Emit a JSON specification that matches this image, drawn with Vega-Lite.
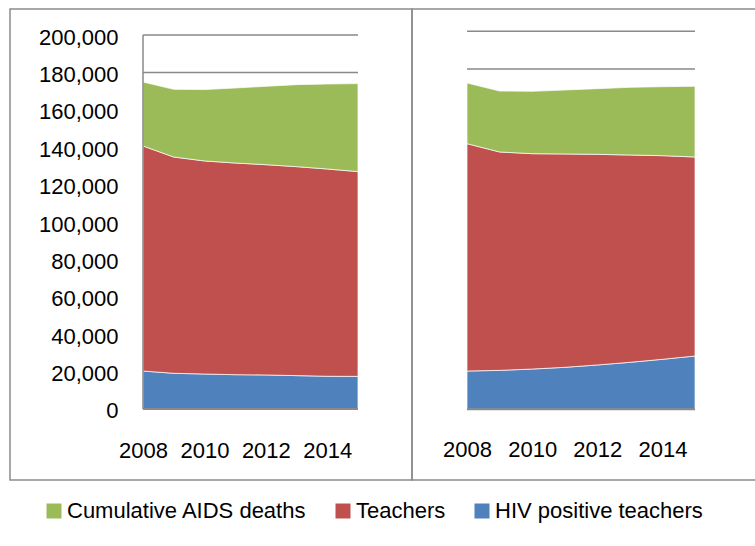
{
  "$schema": "https://vega.github.io/schema/vega-lite/v6.json",
  "padding": {"left": 9, "top": 8, "right": 0, "bottom": 0},
  "background": "white",
  "datasets": {
    "areas": [
      {"panel": "left", "year": 2008, "series": "HIV positive teachers", "value": 20300, "rank": 1},
      {"panel": "left", "year": 2009, "series": "HIV positive teachers", "value": 19100, "rank": 1},
      {"panel": "left", "year": 2010, "series": "HIV positive teachers", "value": 18700, "rank": 1},
      {"panel": "left", "year": 2011, "series": "HIV positive teachers", "value": 18350, "rank": 1},
      {"panel": "left", "year": 2012, "series": "HIV positive teachers", "value": 18200, "rank": 1},
      {"panel": "left", "year": 2013, "series": "HIV positive teachers", "value": 17850, "rank": 1},
      {"panel": "left", "year": 2014, "series": "HIV positive teachers", "value": 17500, "rank": 1},
      {"panel": "left", "year": 2015, "series": "HIV positive teachers", "value": 17450, "rank": 1},
      {"panel": "left", "year": 2008, "series": "Teachers", "value": 120350, "rank": 2},
      {"panel": "left", "year": 2009, "series": "Teachers", "value": 115650, "rank": 2},
      {"panel": "left", "year": 2010, "series": "Teachers", "value": 113950, "rank": 2},
      {"panel": "left", "year": 2011, "series": "Teachers", "value": 113200, "rank": 2},
      {"panel": "left", "year": 2012, "series": "Teachers", "value": 112450, "rank": 2},
      {"panel": "left", "year": 2013, "series": "Teachers", "value": 111750, "rank": 2},
      {"panel": "left", "year": 2014, "series": "Teachers", "value": 110850, "rank": 2},
      {"panel": "left", "year": 2015, "series": "Teachers", "value": 109500, "rank": 2},
      {"panel": "left", "year": 2008, "series": "Cumulative AIDS deaths", "value": 34200, "rank": 3},
      {"panel": "left", "year": 2009, "series": "Cumulative AIDS deaths", "value": 36200, "rank": 3},
      {"panel": "left", "year": 2010, "series": "Cumulative AIDS deaths", "value": 38150, "rank": 3},
      {"panel": "left", "year": 2011, "series": "Cumulative AIDS deaths", "value": 40100, "rank": 3},
      {"panel": "left", "year": 2012, "series": "Cumulative AIDS deaths", "value": 41900, "rank": 3},
      {"panel": "left", "year": 2013, "series": "Cumulative AIDS deaths", "value": 43850, "rank": 3},
      {"panel": "left", "year": 2014, "series": "Cumulative AIDS deaths", "value": 45450, "rank": 3},
      {"panel": "left", "year": 2015, "series": "Cumulative AIDS deaths", "value": 47050, "rank": 3},
      {"panel": "right", "year": 2008, "series": "HIV positive teachers", "value": 20250, "rank": 1},
      {"panel": "right", "year": 2009, "series": "HIV positive teachers", "value": 20600, "rank": 1},
      {"panel": "right", "year": 2010, "series": "HIV positive teachers", "value": 21300, "rank": 1},
      {"panel": "right", "year": 2011, "series": "HIV positive teachers", "value": 22200, "rank": 1},
      {"panel": "right", "year": 2012, "series": "HIV positive teachers", "value": 23450, "rank": 1},
      {"panel": "right", "year": 2013, "series": "HIV positive teachers", "value": 24850, "rank": 1},
      {"panel": "right", "year": 2014, "series": "HIV positive teachers", "value": 26450, "rank": 1},
      {"panel": "right", "year": 2015, "series": "HIV positive teachers", "value": 28200, "rank": 1},
      {"panel": "right", "year": 2008, "series": "Teachers", "value": 120300, "rank": 2},
      {"panel": "right", "year": 2009, "series": "Teachers", "value": 115550, "rank": 2},
      {"panel": "right", "year": 2010, "series": "Teachers", "value": 113950, "rank": 2},
      {"panel": "right", "year": 2011, "series": "Teachers", "value": 112900, "rank": 2},
      {"panel": "right", "year": 2012, "series": "Teachers", "value": 111450, "rank": 2},
      {"panel": "right", "year": 2013, "series": "Teachers", "value": 109700, "rank": 2},
      {"panel": "right", "year": 2014, "series": "Teachers", "value": 107750, "rank": 2},
      {"panel": "right", "year": 2015, "series": "Teachers", "value": 105300, "rank": 2},
      {"panel": "right", "year": 2008, "series": "Cumulative AIDS deaths", "value": 32100, "rank": 3},
      {"panel": "right", "year": 2009, "series": "Cumulative AIDS deaths", "value": 32250, "rank": 3},
      {"panel": "right", "year": 2010, "series": "Cumulative AIDS deaths", "value": 33000, "rank": 3},
      {"panel": "right", "year": 2011, "series": "Cumulative AIDS deaths", "value": 33850, "rank": 3},
      {"panel": "right", "year": 2012, "series": "Cumulative AIDS deaths", "value": 34750, "rank": 3},
      {"panel": "right", "year": 2013, "series": "Cumulative AIDS deaths", "value": 35800, "rank": 3},
      {"panel": "right", "year": 2014, "series": "Cumulative AIDS deaths", "value": 36500, "rank": 3},
      {"panel": "right", "year": 2015, "series": "Cumulative AIDS deaths", "value": 37400, "rank": 3}
    ],
    "grid": [
      {"tick": 0}, {"tick": 20000}, {"tick": 40000}, {"tick": 60000}, {"tick": 80000},
      {"tick": 100000}, {"tick": 120000}, {"tick": 140000}, {"tick": 160000}, {"tick": 180000}, {"tick": 200000}
    ]
  },
  "vconcat": [
    {
      "bounds": "flush",
      "hconcat": [
        {
          "width": 402,
          "height": 471,
          "layer": [
            {
              "data": {"name": "grid"},
              "mark": {"type": "rule", "color": "#898989", "strokeWidth": 1.5},
              "encoding": {
                "x": {"datum": 2008, "type": "quantitative", "scale": {"domain": [2003.6697, 2016.7582], "nice": false, "zero": false},
                  "axis": {"orient": "bottom", "offset": -71, "values": [2008, 2010, 2012, 2014], "format": "d", "labelPadding": 31, "title": null, "domain": false, "ticks": false, "tickSize": 0, "grid": false, "labelFlush": false, "labelOverlap": false}},
                "x2": {"datum": 2015},
                "y": {"field": "tick", "type": "quantitative", "scale": {"domain": [-37968, 213904], "nice": false, "zero": false},
                  "axis": {"orient": "left", "offset": -133, "values": [0, 20000, 40000, 60000, 80000, 100000, 120000, 140000, 160000, 180000, 200000], "format": ",d", "labelPadding": 25, "labelOffset": 2, "title": null, "domain": false, "ticks": false, "tickSize": 0, "grid": false, "labelOverlap": false, "labelFlush": false}}
              }
            },
            {
              "data": {"name": "areas"},
              "transform": [{"filter": "datum.panel == 'left'"}],
              "mark": {"type": "area", "stroke": "white", "strokeWidth": 1, "strokeOpacity": 0.7},
              "encoding": {
                "x": {"field": "year", "type": "quantitative", "scale": {"domain": [2003.6697, 2016.7582], "nice": false, "zero": false},
                  "axis": {"orient": "bottom", "offset": -71, "values": [2008, 2010, 2012, 2014], "format": "d", "labelPadding": 31, "title": null, "domain": false, "ticks": false, "tickSize": 0, "grid": false, "labelFlush": false, "labelOverlap": false}},
                "y": {"field": "value", "type": "quantitative", "stack": "zero", "scale": {"domain": [-37968, 213904], "nice": false, "zero": false},
                  "axis": {"orient": "left", "offset": -133, "values": [0, 20000, 40000, 60000, 80000, 100000, 120000, 140000, 160000, 180000, 200000], "format": ",d", "labelPadding": 25, "labelOffset": 2, "title": null, "domain": false, "ticks": false, "tickSize": 0, "grid": false, "labelOverlap": false, "labelFlush": false}},
                "color": {"field": "series", "type": "nominal", "scale": {"domain": ["Cumulative AIDS deaths", "Teachers", "HIV positive teachers"], "range": ["#9BBB59", "#C0504D", "#4F81BD"]}, "legend": null},
                "order": {"field": "rank", "type": "quantitative"}
              }
            },
            {
              "data": {"values": [{}]},
              "mark": {"type": "rule", "color": "#898989", "strokeWidth": 1.5},
              "encoding": {
                "x": {"datum": 2008, "type": "quantitative",
                  "axis": {"orient": "bottom", "offset": -71, "values": [2008, 2010, 2012, 2014], "format": "d", "labelPadding": 31, "title": null, "domain": false, "ticks": false, "tickSize": 0, "grid": false, "labelFlush": false, "labelOverlap": false}},
                "y": {"datum": 0, "type": "quantitative",
                  "axis": {"orient": "left", "offset": -133, "values": [0, 20000, 40000, 60000, 80000, 100000, 120000, 140000, 160000, 180000, 200000], "format": ",d", "labelPadding": 25, "labelOffset": 2, "title": null, "domain": false, "ticks": false, "tickSize": 0, "grid": false, "labelOverlap": false, "labelFlush": false}},
                "y2": {"datum": 200000}
              }
            },
            {
              "data": {"values": [{}]},
              "mark": {"type": "rule", "color": "#898989", "strokeWidth": 2},
              "encoding": {
                "x": {"datum": 2008, "type": "quantitative",
                  "axis": {"orient": "bottom", "offset": -71, "values": [2008, 2010, 2012, 2014], "format": "d", "labelPadding": 31, "title": null, "domain": false, "ticks": false, "tickSize": 0, "grid": false, "labelFlush": false, "labelOverlap": false}},
                "x2": {"datum": 2015},
                "y": {"datum": 0, "type": "quantitative",
                  "axis": {"orient": "left", "offset": -133, "values": [0, 20000, 40000, 60000, 80000, 100000, 120000, 140000, 160000, 180000, 200000], "format": ",d", "labelPadding": 25, "labelOffset": 2, "title": null, "domain": false, "ticks": false, "tickSize": 0, "grid": false, "labelOverlap": false, "labelFlush": false}}
              }
            }
          ]
        },
        {
          "width": 348,
          "height": 471,
          "layer": [
            {
              "data": {"name": "grid"},
              "mark": {"type": "rule", "color": "#898989", "strokeWidth": 1.5},
              "encoding": {
                "x": {"datum": 2008, "type": "quantitative", "scale": {"domain": [2006.3114, 2016.9956], "nice": false, "zero": false},
                  "axis": {"orient": "bottom", "offset": -71, "values": [2008, 2010, 2012, 2014], "format": "d", "labelPadding": 30, "title": null, "domain": false, "ticks": false, "tickSize": 0, "grid": false, "labelFlush": false, "labelOverlap": false}},
                "x2": {"datum": 2015},
                "y": {"field": "tick", "type": "quantitative", "scale": {"domain": [-37407, 211799], "nice": false, "zero": false}, "axis": null}
              }
            },
            {
              "data": {"name": "areas"},
              "transform": [{"filter": "datum.panel == 'right'"}],
              "mark": {"type": "area", "stroke": "white", "strokeWidth": 1, "strokeOpacity": 0.7},
              "encoding": {
                "x": {"field": "year", "type": "quantitative", "scale": {"domain": [2006.3114, 2016.9956], "nice": false, "zero": false},
                  "axis": {"orient": "bottom", "offset": -71, "values": [2008, 2010, 2012, 2014], "format": "d", "labelPadding": 30, "title": null, "domain": false, "ticks": false, "tickSize": 0, "grid": false, "labelFlush": false, "labelOverlap": false}},
                "y": {"field": "value", "type": "quantitative", "stack": "zero", "scale": {"domain": [-37407, 211799], "nice": false, "zero": false}, "axis": null},
                "color": {"field": "series", "type": "nominal", "scale": {"domain": ["Cumulative AIDS deaths", "Teachers", "HIV positive teachers"], "range": ["#9BBB59", "#C0504D", "#4F81BD"]}, "legend": null},
                "order": {"field": "rank", "type": "quantitative"}
              }
            },
            {
              "data": {"values": [{}]},
              "mark": {"type": "rule", "color": "#898989", "strokeWidth": 2},
              "encoding": {
                "x": {"datum": 2008, "type": "quantitative",
                  "axis": {"orient": "bottom", "offset": -71, "values": [2008, 2010, 2012, 2014], "format": "d", "labelPadding": 30, "title": null, "domain": false, "ticks": false, "tickSize": 0, "grid": false, "labelFlush": false, "labelOverlap": false}},
                "x2": {"datum": 2015},
                "y": {"datum": 0, "type": "quantitative", "axis": null}
              }
            }
          ]
        }
      ],
      "spacing": 0,
      "resolve": {"scale": {"color": "independent"}, "legend": {"color": "independent"}}
    },
    {
      "width": 752,
      "height": 70,
      "data": {"name": "areas"},
      "transform": [{"filter": "datum.panel == 'left' && datum.year == 2008"}],
      "mark": {"type": "square", "size": 0},
      "encoding": {
        "color": {
          "field": "series", "type": "nominal",
          "scale": {"domain": ["Cumulative AIDS deaths", "Teachers", "HIV positive teachers"], "range": ["#9BBB59", "#C0504D", "#4F81BD"]},
          "legend": {
            "orient": "none", "legendX": 33, "legendY": 19, "direction": "horizontal", "title": null,
            "values": ["Cumulative AIDS deaths", "Teachers", "HIV positive teachers"],
            "symbolType": "square", "symbolSize": 225, "symbolStrokeWidth": 0, "symbolOpacity": 1,
            "labelFont": "Liberation Sans", "labelFontSize": 22, "labelColor": "#000000",
            "labelOffset": 2, "columnPadding": 25, "labelLimit": 400, "padding": 0
          }
        }
      }
    }
  ],
  "spacing": 0,
  "resolve": {"scale": {"color": "independent"}, "legend": {"color": "independent"}},
  "config": {
    "font": "Liberation Sans",
    "view": {"stroke": "#8c8c8c", "strokeWidth": 1.5},
    "axis": {"labelFont": "Liberation Sans", "labelFontSize": 22, "labelColor": "#000000"}
  }
}
